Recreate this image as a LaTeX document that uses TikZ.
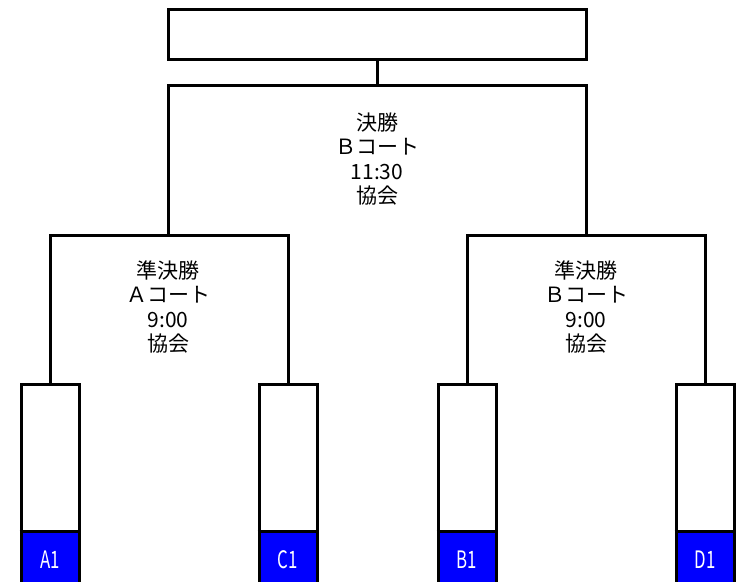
\documentclass[tikz,border=0pt]{standalone}
\usepackage{fontspec}
\setmainfont{Noto Sans CJK JP}
\definecolor{leafblue}{RGB}{0,0,255}
\begin{document}
\begin{tikzpicture}[x=1pt,y=-1pt,
  line width=3pt,
  topbox/.style={draw, rectangle, minimum width=418pt, minimum height=50pt, inner sep=0pt},
  matchtxt/.style={align=center, font=\fontsize{21}{24.5}\selectfont, inner sep=0pt},
  leafbox/.style={draw, rectangle, minimum width=58pt, minimum height=216pt, inner sep=0pt},
  leaflab/.style={fill=leafblue, rectangle, minimum width=58pt, minimum height=60pt, inner sep=0pt, text=white, font=\fontsize{24}{24}\selectfont},
  bline/.style={draw=black, line width=3pt}
]
\useasboundingbox (0,0) rectangle (736,581);
\fill[white] (0,0) rectangle (736,581);
% top box
\node[topbox] (top) at (377,34) {};
% match texts
\node[matchtxt] (fin) at (377,159) {決勝\\Ｂコート\\11:30\\協会};
\node[matchtxt] (semiA) at (168,307) {準決勝\\Ａコート\\9:00\\協会};
\node[matchtxt] (semiB) at (586,307) {準決勝\\Ｂコート\\9:00\\協会};
% leaves: blue labels first, then box outline
\foreach \n/\x in {A1/50, C1/288, B1/467, D1/705}{
  \node[leaflab] (\n) at (\x,563) {\raisebox{6pt}{\scalebox{0.7}[1]{\n}}};
  \node[leafbox] (\n box) at (\x,492) {};
  \draw[bline] (\n.north west) -- (\n.north east);
}
% bracket coordinates
\coordinate (fL) at (168,85);
\coordinate (fR) at (586,85);
\coordinate (sAL) at (50,235);
\coordinate (sAR) at (288,235);
\coordinate (sBL) at (467,235);
\coordinate (sBR) at (705,235);
% connectors
\draw[bline] (top.south) -- (top.south |- fL);
\draw[bline] (sAL -| fL) -- (fL) -- (fR) -- (sBL -| fR);
\draw[bline] (A1box.north) -- (sAL) -- (sAR) -- (C1box.north);
\draw[bline] (B1box.north) -- (sBL) -- (sBR) -- (D1box.north);
\end{tikzpicture}
\end{document}
